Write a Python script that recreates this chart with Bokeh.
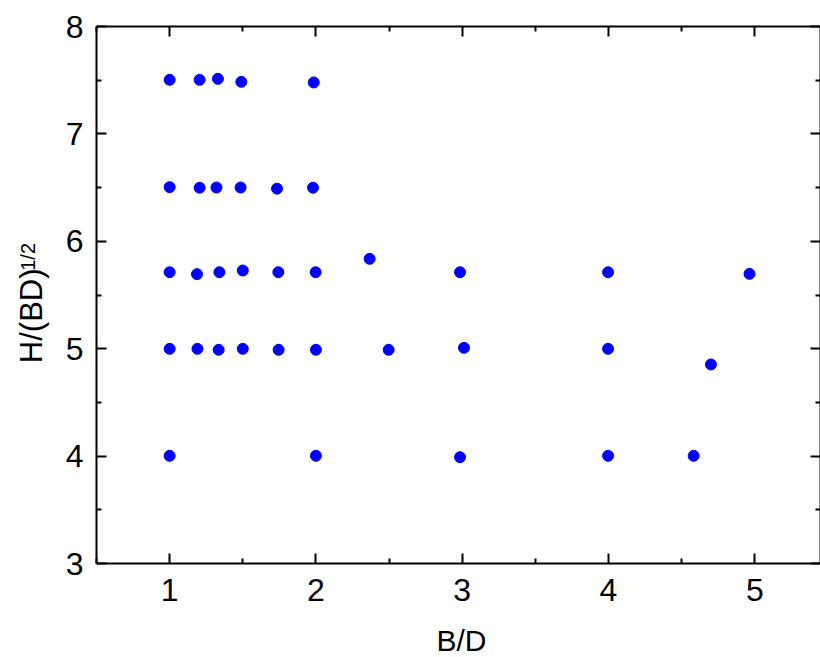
import math
from bokeh.plotting import figure
from bokeh.layouts import row, column
from bokeh.models import LinearAxis, FixedTicker, Range1d
from bokeh.core.properties import value
from bokeh.embed import file_html
from bokeh.resources import INLINE

# Data
bd = [1.00, 1.205, 1.33, 1.49, 1.985,
      1.00, 1.205, 1.32, 1.485, 1.734, 1.98,
      1.00, 1.187, 1.34, 1.50, 1.743, 1.998, 2.367, 2.985, 3.997, 4.964,
      1.00, 1.19, 1.335, 1.50, 1.745, 2.00, 2.497, 3.012, 3.997, 4.70,
      1.00, 2.00, 2.985, 3.997, 4.582]
h_ratio = [7.504, 7.504, 7.513, 7.485, 7.479,
           6.504, 6.499, 6.501, 6.501, 6.490, 6.499,
           5.712, 5.694, 5.712, 5.728, 5.712, 5.712, 5.837, 5.712, 5.712, 5.697,
           4.999, 4.999, 4.990, 4.999, 4.990, 4.990, 4.990, 5.008, 4.999, 4.853,
           4.003, 4.003, 3.990, 4.003, 4.003]

x_major = [1, 2, 3, 4, 5]
x_minor = [0.5, 1.5, 2.5, 3.5, 4.5, 5.5]
y_major = [3, 4, 5, 6, 7, 8]
y_minor = [3.5, 4.5, 5.5, 6.5, 7.5]

x_title = "B/D"
y_title_main = "H/(BD)"
y_title_sup = "1/2"

FONT = "Liberation Sans"
W = 820
TOP_H = 620
BOT_H = 657 - TOP_H
LABEL_W = 55


def blank_fig(w, h):
    f = figure(width=w, height=h, output_backend="svg", toolbar_location=None,
               x_range=Range1d(0, w), y_range=Range1d(0, h),
               x_axis_location=None, y_axis_location=None,
               min_border=0, min_border_left=0, min_border_right=0,
               min_border_top=0, min_border_bottom=0,
               background_fill_color="white", border_fill_color="white")
    f.outline_line_color = None
    f.grid.visible = False
    return f


# ---- narrow figure that carries the rotated y-axis title ----
lab = blank_fig(LABEL_W, TOP_H)
lab.text(x=[31], y=[TOP_H - 334], text=[y_title_main], angle=math.pi / 2,
         text_align="center", text_baseline="middle",
         text_font=value(FONT), text_font_size="31px", text_color="black")
lab.text(x=[27], y=[TOP_H - 266], text=[y_title_sup], angle=math.pi / 2,
         text_align="center", text_baseline="middle",
         text_font=value(FONT), text_font_size="20px", text_color="black")

# ---- strip under the plot that carries the x-axis title ----
bot = blank_fig(W, BOT_H)
bot.text(x=[461], y=[BOT_H - 20], text=[x_title],
         text_align="center", text_baseline="middle",
         text_font=value(FONT), text_font_size="30px", text_color="black")

# ---- main scatter figure ----
p = figure(width=W - LABEL_W, height=TOP_H, output_backend="svg",
           toolbar_location=None,
           x_range=Range1d(0.5, 5.449), y_range=Range1d(3, 8),
           min_border_left=96 - LABEL_W, min_border_right=0, min_border_top=26,
           min_border_bottom=TOP_H - 563, background_fill_color="white",
           border_fill_color="white")
p.outline_line_color = None
p.grid.visible = False

p.scatter(bd, h_ratio, size=11, color="#0000ff", line_color="#0000ff")


def style_axis(ax, ticks, minors, show_labels):
    ax.ticker = FixedTicker(ticks=ticks, minor_ticks=minors)
    ax.axis_line_width = 2
    ax.axis_line_color = "black"
    ax.major_tick_line_width = 2
    ax.minor_tick_line_width = 2
    ax.major_tick_in = 10
    ax.major_tick_out = 0
    ax.minor_tick_in = 5
    ax.minor_tick_out = 0
    if show_labels:
        ax.major_label_text_font = FONT
        ax.major_label_text_font_size = "32px"
        ax.major_label_text_color = "black"
    else:
        ax.major_label_text_font_size = "0px"
        ax.major_label_text_color = None
        ax.major_label_standoff = 0


xa = p.xaxis[0]
style_axis(xa, x_major, x_minor, True)
xa.major_label_standoff = 15

ya = p.yaxis[0]
style_axis(ya, y_major, y_minor, True)
ya.major_label_standoff = 13

top = LinearAxis()
style_axis(top, x_major, x_minor, False)
p.add_layout(top, "above")

right = LinearAxis()
style_axis(right, y_major, y_minor, False)
p.add_layout(right, "right")

layout = column(row(lab, p), bot)
open("out.html", "w").write(file_html(layout, INLINE))
